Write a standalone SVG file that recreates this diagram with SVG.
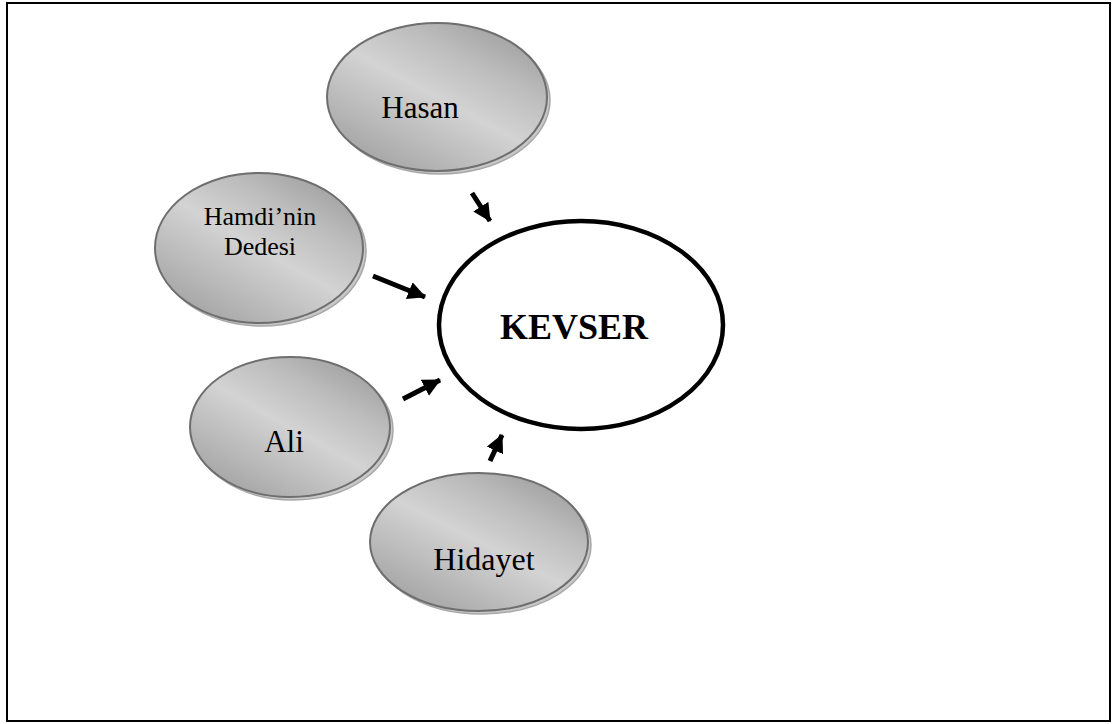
<svg xmlns="http://www.w3.org/2000/svg" width="1112" height="724" viewBox="0 0 1112 724">
<defs>
<linearGradient id="metal" x1="0.1" y1="1" x2="0.9" y2="0">
<stop offset="0" stop-color="#9c9c9c"/>
<stop offset="0.25" stop-color="#b8b8b8"/>
<stop offset="0.5" stop-color="#d3d3d3"/>
<stop offset="0.72" stop-color="#bdbdbd"/>
<stop offset="1" stop-color="#989898"/>
</linearGradient>
<marker id="ah" markerUnits="userSpaceOnUse" markerWidth="18" markerHeight="18" viewBox="0 0 18 18" refX="17" refY="9" orient="auto">
<path d="M0,0 L18,9 L0,18 Z" fill="#000"/>
</marker>
</defs>
<style>
.base{fill:#c8c8c8;stroke:#a8a8a8;stroke-width:1.5}
.node{fill:url(#metal);stroke:#6e6e6e;stroke-width:2}
.lbl{font-family:"Liberation Serif","Times New Roman",serif;fill:#000;text-anchor:middle}
.conn{stroke:#000;stroke-width:5;fill:none;marker-end:url(#ah)}
</style>
<rect x="7" y="3" width="1103" height="718" fill="#fff" stroke="#000" stroke-width="2"/>

<g id="connectors">
<line class="conn" x1="472" y1="193" x2="490" y2="221"/>
<line class="conn" x1="373" y1="276" x2="425" y2="297"/>
<line class="conn" x1="403" y1="399" x2="440" y2="380"/>
<line class="conn" x1="490" y1="461" x2="502" y2="435"/>
</g>

<g id="node-hasan">
<ellipse class="base" cx="440" cy="100" rx="110" ry="74"/>
<ellipse class="node" cx="437" cy="97" rx="110" ry="74"/>
<text class="lbl" x="420" y="118" font-size="31">Hasan</text>
</g>

<g id="node-hamdi">
<ellipse class="base" cx="262" cy="251" rx="104" ry="75"/>
<ellipse class="node" cx="259" cy="248" rx="104" ry="75"/>
<text class="lbl" x="260" y="225" font-size="26">Hamdi’nin</text>
<text class="lbl" x="260" y="255" font-size="26">Dedesi</text>
</g>

<g id="node-ali">
<ellipse class="base" cx="293" cy="430" rx="100" ry="70"/>
<ellipse class="node" cx="290" cy="427" rx="100" ry="70"/>
<text class="lbl" x="284" y="452" font-size="31">Ali</text>
</g>

<g id="node-hidayet">
<ellipse class="base" cx="482" cy="545" rx="109" ry="69"/>
<ellipse class="node" cx="479" cy="542" rx="109" ry="69"/>
<text class="lbl" x="484" y="570" font-size="32">Hidayet</text>
</g>

<g id="node-kevser">
<ellipse cx="581" cy="325" rx="142" ry="104" fill="#fff" stroke="#000" stroke-width="4.5"/>
<text class="lbl" x="574" y="339" font-size="36" font-weight="bold">KEVSER</text>
</g>
</svg>
